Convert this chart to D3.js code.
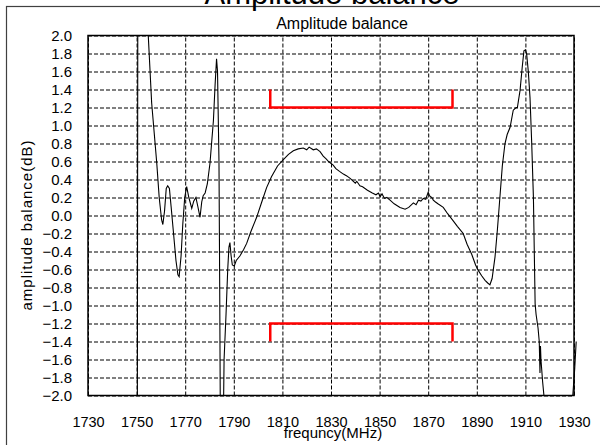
<!DOCTYPE html>
<html>
<head>
<meta charset="utf-8">
<script src="https://cdn.jsdelivr.net/npm/d3@7"></script>
<style>
  body { margin: 0; background: #fff; }
  svg { font-family: "Liberation Sans", Arial, sans-serif; }
</style>
</head>
<body>
<div id="chart"></div>
<script>
// frequency (MHz) and amplitude balance (dB)
var freq = [1750.3, 1750.5, 1753.5, 1754.8, 1756.2, 1757.3, 1758.3, 1759.3, 1760.3, 1760.8,
  1761.5, 1762.2, 1762.8, 1763.5, 1764.2, 1765.1, 1766.2, 1767.0, 1767.5, 1768.3,
  1769.0, 1769.8, 1770.6, 1771.5, 1772.7, 1773.5, 1774.4, 1775.2, 1776.1, 1776.8,
  1777.4, 1778.2, 1779.1, 1780.2, 1781.0, 1781.6, 1782.3, 1782.9, 1783.3, 1783.9,
  1784.2, 1784.5, 1785.6, 1786.0, 1786.8, 1787.5, 1788.0, 1788.4, 1788.9, 1789.4,
  1790.2, 1791.0, 1792.5, 1794.0, 1795.3, 1797.0, 1799.4, 1801.5, 1803.5, 1805.5,
  1808.0, 1810.4, 1812.5, 1814.5, 1816.5, 1818.6, 1820.0, 1821.0, 1822.7, 1824.0,
  1825.5, 1826.8, 1828.0, 1829.0, 1830.9, 1832.0, 1833.5, 1835.1, 1836.5, 1838.0,
  1839.2, 1840.0, 1840.6, 1841.9, 1843.0, 1845.0, 1847.0, 1848.5, 1849.5, 1850.2,
  1851.0, 1852.0, 1853.0, 1854.3, 1856.0, 1858.4, 1860.5, 1862.0, 1863.9, 1865.0,
  1866.0, 1867.0, 1868.0, 1869.0, 1870.0, 1870.5, 1871.5, 1872.1, 1873.0, 1874.0,
  1876.2, 1878.0, 1880.3, 1882.0, 1884.4, 1886.0, 1887.9, 1889.5, 1890.6, 1892.0,
  1893.4, 1894.5, 1895.4, 1896.3, 1897.5, 1898.5, 1899.5, 1900.5, 1901.6, 1902.5,
  1903.7, 1905.0, 1906.2, 1906.7, 1907.8, 1908.7, 1909.4, 1910.0, 1910.5, 1911.2,
  1911.9, 1912.6, 1913.3, 1914.0, 1914.4, 1915.2, 1915.7, 1916.0, 1916.2, 1916.4,
  1917.1, 1917.8, 1918.2, 1929.0, 1929.5, 1930.3, 1930.9];
var balance = [-2.5, 2.5, 2.4, 2.0, 1.25, 0.9, 0.58, 0.2, -0.05, -0.1,
  0.05, 0.3, 0.33, 0.3, 0.1, -0.17, -0.5, -0.66, -0.68, -0.45,
  -0.1, 0.2, 0.32, 0.2, 0.08, 0.16, 0.2, 0.1, -0.02, 0.15,
  0.22, 0.25, 0.35, 0.58, 0.85, 1.05, 1.45, 1.74, 1.6, 0.6,
  -0.8, -2.5, -2.5, -1.6, -1.1, -0.6, -0.35, -0.3, -0.45, -0.55,
  -0.56, -0.5, -0.45, -0.38, -0.31, -0.18, -0.02, 0.15, 0.31, 0.43,
  0.55, 0.62, 0.68, 0.72, 0.74, 0.75, 0.73, 0.76, 0.73, 0.74,
  0.71, 0.66, 0.63, 0.6, 0.56, 0.52, 0.49, 0.46, 0.44, 0.41,
  0.38, 0.36, 0.38, 0.33, 0.32, 0.28, 0.25, 0.23, 0.25, 0.21,
  0.24, 0.19, 0.2, 0.17, 0.13, 0.09, 0.07, 0.09, 0.14, 0.12,
  0.17, 0.16, 0.19, 0.18, 0.26, 0.22, 0.2, 0.17, 0.15, 0.13,
  0.09, 0.02, -0.06, -0.12, -0.2, -0.32, -0.43, -0.55, -0.61, -0.67,
  -0.72, -0.75, -0.77, -0.7, -0.46, -0.15, 0.2, 0.55, 0.8, 0.9,
  0.98, 1.17, 1.2, 1.2, 1.39, 1.65, 1.83, 1.84, 1.8, 1.6,
  1.31, 0.8, 0.2, -0.98, -1.1, -1.25, -1.4, -1.75, -1.45, -1.6,
  -1.85, -2.05, -2.6, -2.6, -2.0, -1.7, -1.4];

// spec limit brackets (red)
var specFreq = [1805, 1880];
var specLimit = [1.2, -1.2];
var specEnd = [1.4, -1.4];

var xTicks = [1730, 1750, 1770, 1790, 1810, 1830, 1850, 1870, 1890, 1910, 1930];
var yTicks = [2.0, 1.8, 1.6, 1.4, 1.2, 1.0, 0.8, 0.6, 0.4, 0.2, 0.0,
  -0.2, -0.4, -0.6, -0.8, -1.0, -1.2, -1.4, -1.6, -1.8, -2.0];

var width = 600, height = 445;
var plotLeft = 88, plotRight = 574, plotTop = 35.5, plotBottom = 395.5;

var svg = d3.select("#chart")
  .append("svg")
  .attr("width", width)
  .attr("height", height);

// outer frame, runs off the bottom and right of the picture
svg.append("rect")
  .attr("x", 6.5).attr("y", 6.5)
  .attr("width", 700).attr("height", 500)
  .attr("fill", "none")
  .attr("stroke", "#404040")
  .attr("stroke-width", 1.2);

svg.append("text")
  .attr("x", 332).attr("y", 4)
  .attr("text-anchor", "middle")
  .style("font-size", "31px")
  .text("Amplitude balance");

svg.append("text")
  .attr("x", 342).attr("y", 29)
  .attr("text-anchor", "middle")
  .style("font-size", "16px")
  .text("Amplitude balance");

var xScale = d3.scaleLinear()
  .domain([1730, 1930])
  .range([plotLeft, plotRight]);

var yScale = d3.scaleLinear()
  .domain([-2, 2])
  .range([plotBottom, plotTop]);

var xAxis = d3.axisBottom(xScale)
  .tickValues(xTicks)
  .tickFormat(d3.format("d"))
  .tickSize(-(plotBottom - plotTop))
  .tickPadding(21);

var yAxis = d3.axisLeft(yScale)
  .tickValues(yTicks)
  .tickFormat(d3.format(".1f"))
  .tickSize(-(plotRight - plotLeft))
  .tickPadding(16);

var gx = svg.append("g")
  .attr("transform", "translate(0 " + plotBottom + ")")
  .call(xAxis);

var gy = svg.append("g")
  .attr("transform", "translate(" + plotLeft + " 0)")
  .call(yAxis);

[gx, gy].forEach(function(g) {
  g.select(".domain").remove();
  g.selectAll(".tick line")
    .attr("stroke", "#000")
    .attr("stroke-dasharray", "4,2");
  g.selectAll(".tick text")
    .attr("fill", "#000")
    .style("font-size", "15px")
    .style("font-family", "'Liberation Sans', Arial, sans-serif");
});
gx.selectAll(".tick text").style("font-size", "14.5px");
gy.selectAll(".tick text").attr("dy", "0.36em");

svg.append("rect")
  .attr("x", plotLeft).attr("y", plotTop)
  .attr("width", plotRight - plotLeft).attr("height", plotBottom - plotTop)
  .attr("fill", "none")
  .attr("stroke", "#000")
  .attr("stroke-width", 1.5);

svg.append("clipPath").attr("id", "clip")
  .append("rect")
  .attr("x", plotLeft).attr("y", plotTop)
  .attr("width", plotRight - plotLeft + 4).attr("height", plotBottom - plotTop);

var line = d3.line()
  .x(function(d, i) { return xScale(freq[i]); })
  .y(function(d) { return yScale(d); });

svg.append("path")
  .datum(balance)
  .attr("clip-path", "url(#clip)")
  .attr("fill", "none")
  .attr("stroke", "#000")
  .attr("stroke-width", 1.1)
  .attr("d", line);

// red brackets
specLimit.forEach(function(lim, k) {
  var pts = [[specFreq[0], specEnd[k]], [specFreq[0], lim], [specFreq[1], lim], [specFreq[1], specEnd[k]]];
  svg.append("path")
    .datum(pts)
    .attr("fill", "none")
    .attr("stroke", "#ff0000")
    .attr("stroke-width", 2.5)
    .attr("d", d3.line()
      .x(function(d) { return xScale(d[0]); })
      .y(function(d) { return yScale(d[1]); }));
});

svg.append("text")
  .attr("x", 333).attr("y", 438)
  .attr("text-anchor", "middle")
  .style("font-size", "15px")
  .text("frequncy(MHz)");

svg.append("text")
  .attr("transform", "translate(32 225) rotate(-90)")
  .attr("text-anchor", "middle")
  .style("font-size", "15px")
  .style("letter-spacing", "1px")
  .text("amplitude balance(dB)");
</script>
</body>
</html>
